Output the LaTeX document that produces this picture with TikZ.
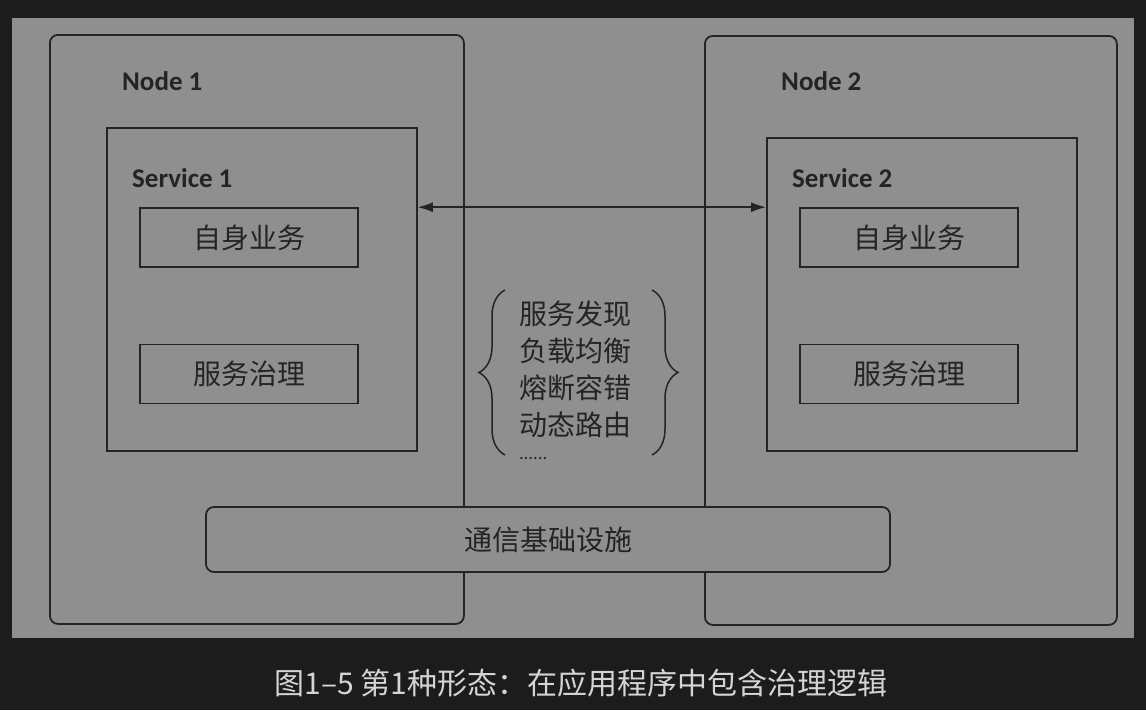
\documentclass[tikz,border=0pt]{standalone}
\usepackage{fontspec}
\setmainfont{Carlito}
\newfontfamily\cjk{Noto Sans CJK SC}
\usetikzlibrary{positioning,calc,arrows.meta,decorations.pathreplacing}
\definecolor{bgdark}{RGB}{28,28,28}
\definecolor{panelgray}{RGB}{143,143,143}
\definecolor{linedark}{RGB}{36,36,36}
\definecolor{captiongray}{RGB}{212,212,212}

\begin{document}
\begin{tikzpicture}[x=1pt,y=-1pt,
  outerbox/.style={draw=linedark,line width=1.8pt,rounded corners=8pt,inner sep=0pt},
  svcbox/.style={draw=linedark,line width=1.8pt,inner sep=0pt},
  funcbox/.style={draw=linedark,line width=1.6pt,text=linedark,
                  minimum width=218pt,minimum height=59pt,
                  font=\cjk\fontsize{28}{28}\selectfont},
  boxtitle/.style={anchor=west,inner sep=0pt,text=linedark,font=\bfseries\fontsize{27}{27}\selectfont},
  curly/.style={draw=linedark,line width=1.5pt,decorate,decoration={brace,amplitude=26pt}}]
  \fill[bgdark] (0,0) rectangle (1146,710);
  \useasboundingbox (0,0) rectangle (1146,710);
  \fill[panelgray] (12,18) rectangle (1134,638);

  % the two nodes
  \node[outerbox,minimum width=414pt,minimum height=589pt,anchor=north west]
    (node1) at (49,34) {};
  \node[outerbox,minimum width=412pt,minimum height=589pt,anchor=north west]
    (node2) at (704,35) {};
  \node[boxtitle] (node1title) at (122,81) {Node 1};
  \node[boxtitle] (node2title) at (781,81) {Node 2};

  % services
  \node[svcbox,minimum width=310pt,minimum height=323pt,anchor=north west]
    (svc1) at (106,127) {};
  \node[svcbox,minimum width=310pt,minimum height=313pt,anchor=north west]
    (svc2) at (766,137) {};
  \node[boxtitle] (svc1title) at (132,178) {Service 1};
  \node[boxtitle] (svc2title) at (792,178) {Service 2};

  \node[funcbox] (biz1) at (249,237.5) {自身业务};
  \node[funcbox] (gov1) at (249,374) {服务治理};
  \node[funcbox] (biz2) at (909,237.5) {自身业务};
  \node[funcbox] (gov2) at (909,374) {服务治理};

  \draw[linedark,line width=1.5pt,{Latex[length=15pt,width=10pt]}-{Latex[length=15pt,width=10pt]}]
    (svc1.east |- biz1.north) -- (svc2.west |- biz1.north);

  % governance features
  \node[text=linedark,align=left,inner sep=0pt,font=\cjk\fontsize{28}{37}\selectfont]
    (feat) at (575,369) {服务发现\\负载均衡\\熔断容错\\动态路由};
  \node[text=linedark,anchor=north west,inner sep=0pt,font=\cjk\fontsize{17}{17}\selectfont]
    (featmore) at ([yshift=-20pt]feat.south west) {......};
  \draw[curly] (505,455) -- (505,290);
  \draw[curly] (652,290) -- (652,455);

  % infrastructure
  \node[outerbox,fill=panelgray,minimum width=684pt,minimum height=65pt,
        text=linedark,font=\cjk\fontsize{28}{28}\selectfont]
    (infra) at (548,539.5) {通信基础设施};

  \node[text=captiongray,font=\cjk\fontsize{30}{30}\selectfont]
    (caption) at (581,683) {图1–5 第1种形态：在应用程序中包含治理逻辑};
\end{tikzpicture}
\end{document}
